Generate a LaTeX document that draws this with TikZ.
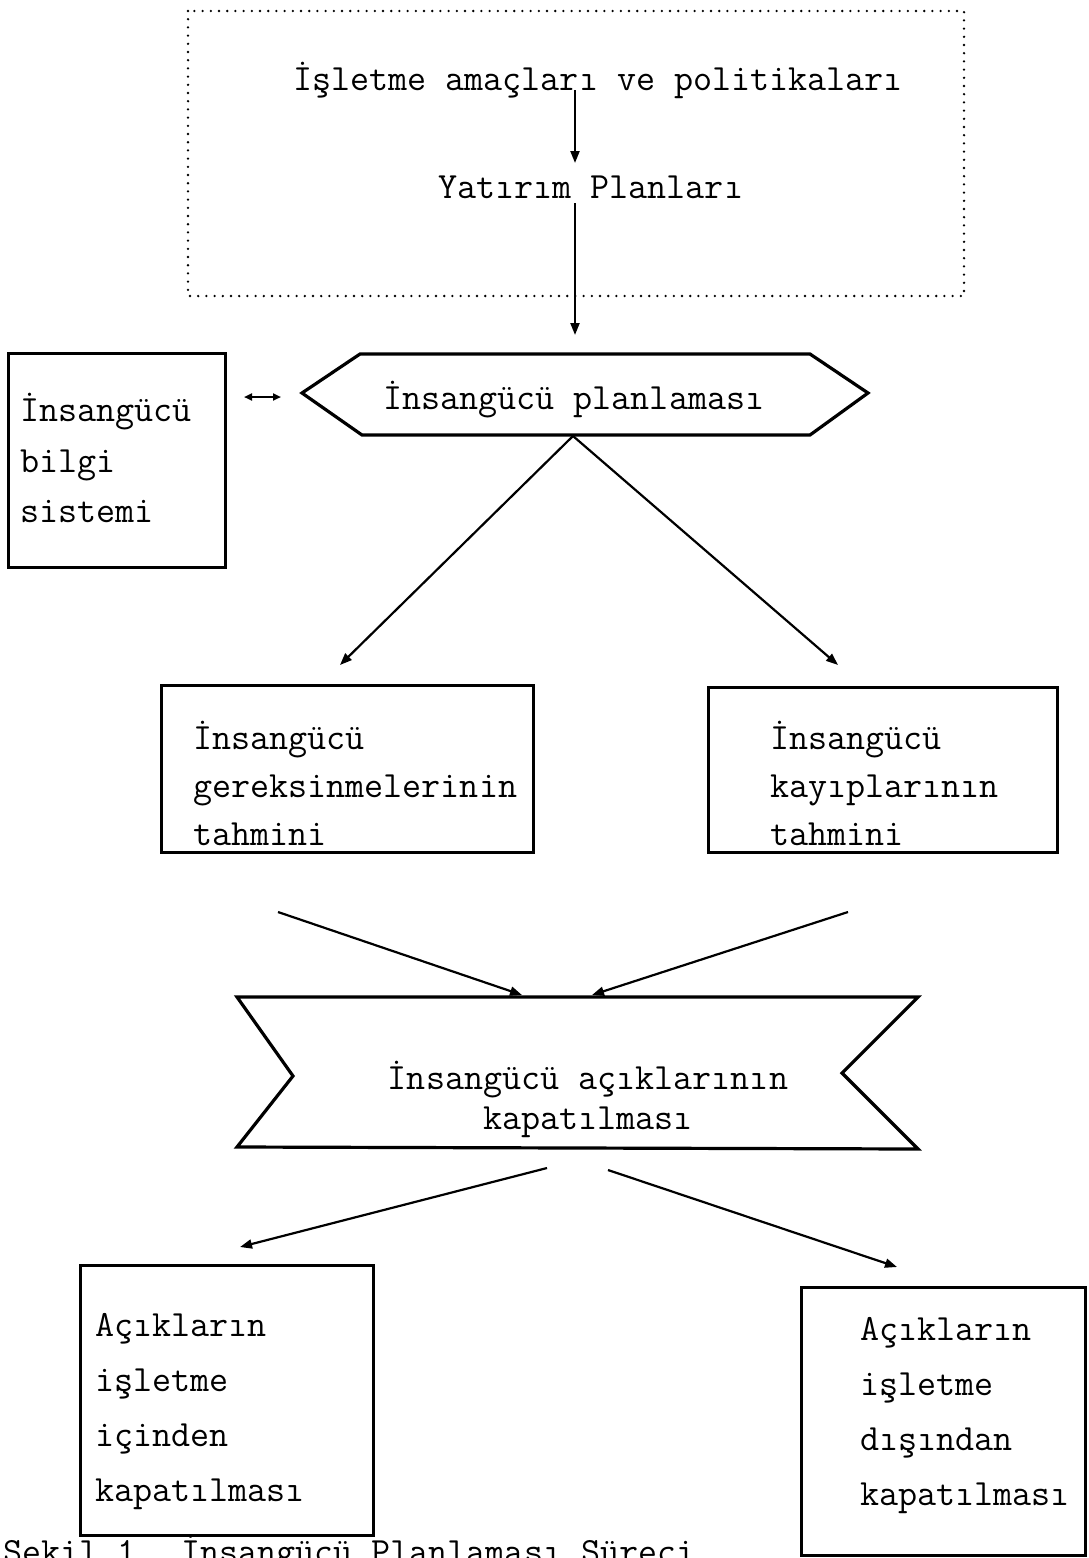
\documentclass[tikz,border=0pt]{standalone}
\usepackage{fontspec}
\usetikzlibrary{arrows.meta,calc}
\begin{document}
\begin{tikzpicture}[x=1pt,y=-1pt,
  txt/.style={font=\ttfamily\fontsize{37}{50}\selectfont, inner sep=0pt, align=left},
  boxn/.style={draw, line width=3pt, inner sep=0pt},
  shp/.style={draw, line width=3.2pt, line join=miter},
  arr/.style={line width=2.2pt, -{Triangle[length=12pt,width=9pt]}},
  darr/.style={line width=2pt, {Triangle[length=8pt,width=7pt]}-{Triangle[length=8pt,width=7pt]}},
  dotbox/.style={line width=2.6pt, dash pattern=on 0pt off 8.2pt, line cap=round}]
\useasboundingbox (0,0) rectangle (1089,1558);
\fill[white] (0,0) rectangle (1089,1558);

% top dotted frame
\draw[dotbox] (188,11) rectangle (964,296);
\node[txt, anchor=west] (t1) at (293,80) {İşletme amaçları ve politikaları};
\node[txt, anchor=west] (t2) at (438,187) {Yatırım Planları};

% hexagon
\draw[shp] (302,393) -- (360,354) -- (810,354) -- (868,393) -- (810,435) -- (362,435) -- cycle;
\coordinate (hexW) at (302,393);
\coordinate (hexB) at (573,436);
\node[txt, anchor=west] (hp) at (383,400) {İnsangücü planlaması};

% left info box
\node[boxn, minimum width=217pt, minimum height=214pt] (lb) at (116.5,460) {};
\node[txt, anchor=west, font=\ttfamily\fontsize{37}{50.5}\selectfont] (lbt) at (20,458) {İnsangücü\\bilgi\\sistemi};

% middle boxes
\node[boxn, minimum width=372pt, minimum height=167pt] (mlb) at (347,768.5) {};
\node[txt, anchor=west, font=\ttfamily\fontsize{37}{48}\selectfont] (mlt) at (193,783) {İnsangücü\\gereksinmelerinin\\tahmini};
\node[boxn, minimum width=349pt, minimum height=165pt] (mrb) at (882.5,769.5) {};
\node[txt, anchor=west, font=\ttfamily\fontsize{37}{48}\selectfont] (mrt) at (770,783) {İnsangücü\\kayıplarının\\tahmini};

% ribbon
\draw[shp] (237,997) -- (918,997) -- (842,1073) -- (918,1149) -- (237,1147) -- (293,1076) -- cycle;
\node[txt, align=center, font=\ttfamily\fontsize{37}{40}\selectfont] (rt) at (588,1099) {İnsangücü açıklarının\\kapatılması};

% bottom boxes
\node[boxn, minimum width=293pt, minimum height=270pt] (blb) at (226.5,1400) {};
\node[txt, anchor=west, font=\ttfamily\fontsize{37}{55}\selectfont] (blt) at (95,1412) {Açıkların\\işletme\\içinden\\kapatılması};
\node[boxn, minimum width=284pt, minimum height=268pt] (brb) at (943,1421) {};
\node[txt, anchor=west, font=\ttfamily\fontsize{37}{55}\selectfont] (brt) at (860,1415.5) {Açıkların\\işletme\\dışından\\kapatılması};

% caption (cut by the page edge)
\node[txt, anchor=base west] (cap) at (3,1563) {Şekil 1. İnsangücü Planlaması Süreci};

% connector end points
\coordinate (ax) at (575,0);
\coordinate (a1e) at (575,163);
\coordinate (a2s) at (575,203);
\coordinate (a2e) at (575,335);
\coordinate (dA) at (244,397);
\coordinate (dB) at (281,397);
\coordinate (a4e) at (340,665);
\coordinate (a5e) at (838,665);
\coordinate (a6s) at (278,912);
\coordinate (a6e) at (522,995);
\coordinate (a7s) at (848,912);
\coordinate (a7e) at (592,995);
\coordinate (a8s) at (547,1168);
\coordinate (a8e) at (240,1247);
\coordinate (a9s) at (608,1170);
\coordinate (a9e) at (897,1267);

\draw[arr] (t1.base -| ax) -- (a1e);
\draw[arr] (a2s) -- (a2e);
\draw[darr] (dA) -- (dB);
\draw[arr] (hexB) -- (a4e);
\draw[arr] (hexB) -- (a5e);
\draw[arr] (a6s) -- (a6e);
\draw[arr] (a7s) -- (a7e);
\draw[arr] (a8s) -- (a8e);
\draw[arr] (a9s) -- (a9e);
\end{tikzpicture}
\end{document}
